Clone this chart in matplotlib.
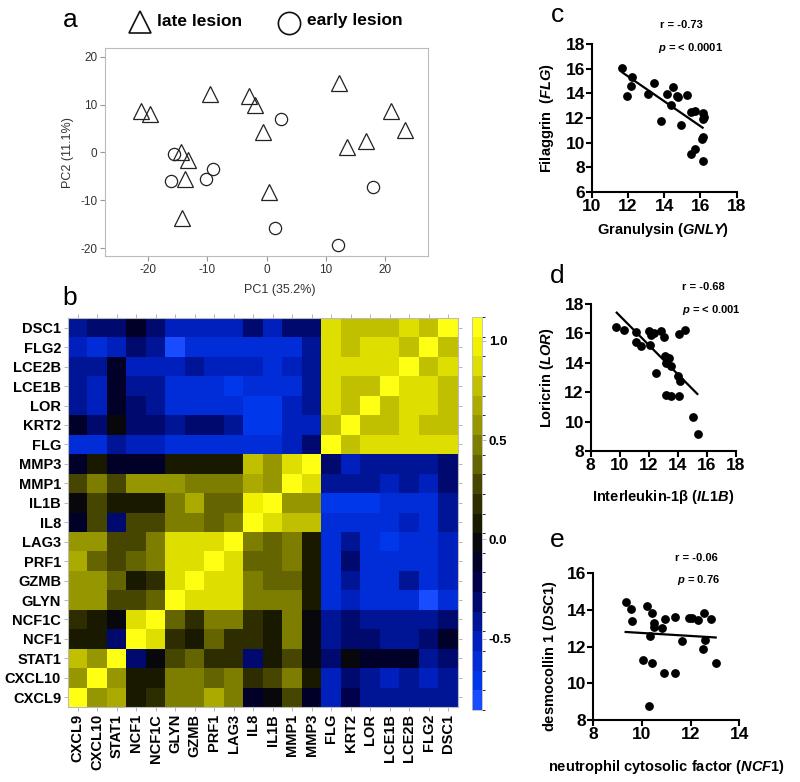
import numpy as np
import matplotlib
matplotlib.use('Agg')
import matplotlib.pyplot as plt
from matplotlib.colors import ListedColormap, BoundaryNorm
from matplotlib.lines import Line2D

plt.rcParams['font.family'] = ['Liberation Sans', 'DejaVu Sans']
plt.rcParams['axes.unicode_minus'] = False
plt.rcParams['mathtext.fontset'] = 'custom'
plt.rcParams['mathtext.rm'] = 'Liberation Sans:bold'
plt.rcParams['mathtext.it'] = 'Liberation Sans:italic:bold'
plt.rcParams['mathtext.bf'] = 'Liberation Sans:bold'

# ---------------- data ----------------
late_pc1 = [-21.2, -19.7, -9.6, -3.0, -2.0, -0.6, 12.3, 21.0, 23.4, 16.9, 13.6, -14.5, -13.2, -13.8, 0.5, -14.2]
late_pc2 = [8.7, 8.0, 12.1, 11.7, 9.9, 4.2, 14.6, 8.7, 4.6, 2.3, 1.2, 0.2, -1.6, -5.5, -8.2, -13.6]
early_pc1 = [-15.7, -16.2, -10.3, -9.1, 2.4, 1.4, 12.1, 18.0]
early_pc2 = [-0.3, -5.9, -5.5, -3.4, 7.0, -15.8, -19.3, -7.3]

genes = ['CXCL9', 'CXCL10', 'STAT1', 'NCF1', 'NCF1C', 'GLYN', 'GZMB', 'PRF1', 'LAG3', 'IL8',
         'IL1B', 'MMP1', 'MMP3', 'FLG', 'KRT2', 'LOR', 'LCE1B', 'LCE2B', 'FLG2', 'DSC1']
corr = [
    [1.05, 0.6, 0.7, 0.08, 0.2, 0.5, 0.5, 0.65, 0.5, -0.1, -0.05, 0.25, -0.08, -0.55, -0.2, -0.4, -0.4, -0.4, -0.45, -0.45],
    [0.6, 1.05, 0.6, 0.08, 0.08, 0.5, 0.5, 0.4, 0.5, 0.2, 0.3, 0.45, 0.05, -0.55, -0.3, -0.45, -0.55, -0.45, -0.55, -0.45],
    [0.75, 0.6, 1.05, -0.3, -0.05, 0.25, 0.35, 0.2, 0.2, -0.3, 0.1, 0.25, -0.05, -0.35, -0.05, -0.15, -0.15, -0.15, -0.4, -0.3],
    [0.08, 0.08, -0.3, 1.05, 0.9, 0.2, 0.08, 0.35, 0.2, 0.2, 0.08, 0.45, -0.05, -0.4, -0.3, -0.35, -0.4, -0.4, -0.3, -0.15],
    [0.2, 0.08, -0.05, 0.9, 1.05, 0.35, 0.2, 0.5, 0.5, 0.2, 0.1, 0.45, -0.05, -0.45, -0.35, -0.4, -0.4, -0.4, -0.4, -0.3],
    [0.55, 0.55, 0.25, 0.25, 0.4, 1.05, 0.9, 0.9, 0.9, 0.5, 0.5, 0.45, 0.05, -0.65, -0.5, -0.6, -0.6, -0.6, -0.8, -0.6],
    [0.55, 0.55, 0.35, 0.08, 0.2, 0.9, 1.05, 0.9, 0.9, 0.5, 0.35, 0.35, 0.05, -0.65, -0.4, -0.6, -0.6, -0.45, -0.6, -0.55],
    [0.7, 0.4, 0.25, 0.4, 0.5, 0.9, 0.9, 1.05, 0.9, 0.4, 0.35, 0.5, 0.05, -0.65, -0.35, -0.6, -0.6, -0.6, -0.6, -0.55],
    [0.55, 0.55, 0.25, 0.25, 0.5, 0.9, 0.9, 0.9, 1.05, 0.5, 0.4, 0.5, 0.05, -0.65, -0.45, -0.6, -0.7, -0.6, -0.6, -0.55],
    [-0.08, 0.25, -0.3, 0.25, 0.25, 0.5, 0.5, 0.35, 0.5, 1.05, 0.9, 0.75, 0.75, -0.65, -0.65, -0.65, -0.65, -0.5, -0.65, -0.45],
    [-0.05, 0.3, 0.1, 0.1, 0.1, 0.45, 0.7, 0.35, 0.35, 0.95, 1.05, 0.6, 0.6, -0.7, -0.7, -0.7, -0.6, -0.6, -0.65, -0.45],
    [0.3, 0.5, 0.3, 0.55, 0.55, 0.55, 0.5, 0.5, 0.5, 0.7, 0.6, 1.05, 0.85, -0.45, -0.45, -0.45, -0.55, -0.45, -0.55, -0.3],
    [-0.08, 0.05, -0.08, -0.08, -0.08, 0.08, 0.08, 0.05, 0.05, 0.75, 0.6, 0.85, 1.05, -0.3, -0.55, -0.45, -0.45, -0.45, -0.45, -0.3],
    [-0.6, -0.6, -0.45, -0.5, -0.55, -0.65, -0.65, -0.65, -0.65, -0.65, -0.65, -0.5, -0.3, 1.05, 0.75, 0.9, 0.9, 0.9, 0.9, 0.9],
    [-0.15, -0.3, -0.05, -0.3, -0.3, -0.45, -0.35, -0.35, -0.45, -0.7, -0.7, -0.5, -0.55, 0.75, 1.05, 0.75, 0.75, 0.9, 0.75, 0.75],
    [-0.45, -0.5, -0.15, -0.35, -0.45, -0.6, -0.6, -0.6, -0.6, -0.7, -0.75, -0.5, -0.45, 0.9, 0.75, 1.05, 0.75, 0.9, 0.9, 0.75],
    [-0.45, -0.55, -0.15, -0.45, -0.45, -0.6, -0.6, -0.6, -0.7, -0.6, -0.6, -0.6, -0.45, 0.9, 0.75, 0.75, 1.05, 0.9, 0.9, 0.75],
    [-0.45, -0.45, -0.15, -0.5, -0.5, -0.55, -0.45, -0.55, -0.55, -0.55, -0.6, -0.5, -0.45, 0.9, 0.9, 0.9, 0.9, 1.05, 0.75, 0.9],
    [-0.5, -0.65, -0.5, -0.3, -0.45, -0.8, -0.65, -0.65, -0.65, -0.65, -0.65, -0.6, -0.45, 0.9, 0.75, 0.9, 0.9, 0.75, 1.05, 0.75],
    [-0.45, -0.3, -0.3, -0.15, -0.3, -0.55, -0.55, -0.55, -0.55, -0.35, -0.55, -0.35, -0.35, 0.9, 0.75, 0.75, 0.75, 0.9, 0.75, 1.05],
]
cbar_ticks = [-0.5, 0.0, 0.5, 1.0]

# panel c
gnly = [11.66, 12.21, 12.17, 11.97, 13.09, 13.46, 13.81, 14.14, 14.47, 14.36, 14.71, 14.76,
        14.91, 15.28, 15.46, 15.68, 16.16, 16.22, 16.16, 16.16, 16.11, 15.72, 15.50, 16.16]
flg = [16.10, 15.37, 14.58, 13.77, 13.93, 14.82, 11.73, 13.93, 14.53, 13.09, 13.82, 13.68,
       11.40, 13.90, 12.52, 12.60, 12.38, 12.11, 11.89, 10.43, 10.29, 9.50, 9.10, 8.47]
fit_c_x = [11.71, 16.12]
fit_c_y = [15.69, 11.21]
# panel d
il1b = [9.72, 10.29, 11.10, 11.12, 11.44, 12.01, 12.17, 12.33, 12.06, 12.86, 13.05, 12.47,
        13.09, 13.18, 13.39, 13.55, 13.99, 14.15, 13.18, 13.55, 14.10, 14.08, 14.49, 15.02, 15.36]
lor = [16.41, 16.23, 16.12, 15.44, 15.17, 16.16, 15.89, 16.05, 15.21, 16.14, 15.73, 13.31,
       14.46, 13.96, 14.30, 13.76, 13.10, 12.76, 11.81, 11.76, 11.74, 15.96, 16.23, 10.34, 9.16]
fit_d_x = [9.79, 15.34]
fit_d_y = [17.41, 11.88]
# panel e
ncf1 = [9.33, 9.55, 9.60, 10.19, 10.41, 10.51, 10.49, 10.82, 10.95, 11.37, 10.33, 10.05, 10.41,
        10.89, 11.37, 10.27, 11.63, 11.92, 12.07, 12.30, 12.55, 12.60, 12.49, 12.84, 13.03]
dsc1 = [14.44, 14.07, 13.40, 14.22, 13.85, 13.31, 13.09, 13.02, 13.53, 13.64, 12.58, 11.29, 11.13,
        10.58, 10.58, 8.76, 12.31, 13.58, 13.58, 13.47, 13.85, 12.38, 11.85, 13.53, 11.13]
fit_e_x = [9.33, 13.03]
fit_e_y = [12.80, 12.50]

# ---------------- figure ----------------
W, H = 800, 782
fig = plt.figure(figsize=(W / 100, H / 100), dpi=100)


def fx(x):
    return x / W


def fy(y):
    return 1 - y / H


def rect(x0, y0, x1, y1):
    return [fx(x0), fy(y1), (x1 - x0) / W, (y1 - y0) / H]


# ---- panel a: PCA ----
axa = fig.add_axes(rect(105, 48, 428, 256))
axa.plot(late_pc1, late_pc2, linestyle='none', marker='^', ms=11.5, mfc='none',
         mec='#222222', mew=0.9)
axa.plot(early_pc1, early_pc2, linestyle='none', marker='o', ms=8.8, mfc='none',
         mec='#222222', mew=0.9)
axa.set_xlim(-27.3, 27.3)
axa.set_ylim(-21.6, 21.8)
axa.set_xticks([-20, -10, 0, 10, 20])
axa.set_yticks([-20, -10, 0, 10, 20])
for s in axa.spines.values():
    s.set_color('#bbbbbb')
    s.set_linewidth(0.8)
axa.tick_params(length=3.5, width=0.8, color='#999999', labelsize=8.5, labelcolor='#333333', pad=2)
fig.text(fx(280), fy(290), 'PC1 (35.2%)', ha='center', va='center', fontsize=9, color='#333333')
fig.text(fx(68), fy(153), 'PC2 (11.1%)', ha='center', va='center', fontsize=9, color='#333333',
         rotation=90)
# legend
fig.add_artist(Line2D([fx(140)], [fy(22)], marker='^', ms=16.5, mfc='none', mec='#111111',
                      mew=1.2, linestyle='none', transform=fig.transFigure))
fig.text(fx(157), fy(21), 'late lesion', ha='left', va='center', fontsize=12.5, fontweight='bold')
fig.add_artist(Line2D([fx(289)], [fy(23)], marker='o', ms=16, mfc='none', mec='#111111',
                      mew=1.2, linestyle='none', transform=fig.transFigure))
fig.text(fx(307), fy(21), 'early lesion', ha='left', va='center', fontsize=12.5, fontweight='bold')

# ---- panel b: heatmap ----
bin_colors = [
    (25, 75, 255), (0, 55, 235), (0, 45, 215), (0, 32, 190), (0, 20, 150), (0, 10, 110),
    (0, 0, 75), (0, 0, 40), (8, 8, 12), (25, 25, 0), (45, 45, 0), (70, 70, 0), (100, 100, 0),
    (125, 125, 0), (150, 150, 0), (170, 170, 0), (192, 192, 0), (222, 222, 0), (240, 240, 0),
    (255, 255, 20)]
cmap = ListedColormap([(r / 255, g / 255, b / 255) for r, g, b in bin_colors])
bounds = np.linspace(-0.86, 1.12, 21)
norm = BoundaryNorm(bounds, cmap.N)

axb = fig.add_axes(rect(68, 318, 458, 707))
im = axb.imshow(np.array(corr), origin='lower', cmap=cmap, norm=norm, aspect='auto',
                interpolation='nearest')
axb.set_xticks(range(len(genes)))
axb.set_yticks(range(len(genes)))
axb.set_xticklabels(genes, rotation=90, fontsize=10.5, fontweight='bold')
axb.set_yticklabels(genes, fontsize=10.5, fontweight='bold')
axb.tick_params(top=True, right=True, length=3, width=0.6, color='#aaaaaa', pad=2)
for s in axb.spines.values():
    s.set_color('#bbbbbb')
    s.set_linewidth(0.8)

cax = fig.add_axes(rect(472, 317, 482, 710))
cb = fig.colorbar(im, cax=cax, ticks=cbar_ticks)
cb.ax.set_yticklabels(['%.1f' % t for t in cbar_ticks], fontsize=9.5, fontweight='bold')
cb.ax.tick_params(length=3, width=0.6, color='#aaaaaa', pad=2)
cb.outline.set_edgecolor('#bbbbbb')
cb.outline.set_linewidth(0.6)

# panel labels
for lab, (x, y) in zip('abcde', [(70, 20), (70, 298), (558, 15), (557, 276), (557, 540)]):
    fig.text(fx(x), fy(y), lab, ha='center', va='center', fontsize=19)


# ---- scatter panels ----
def scatter_panel(box, x, y, fitx, fity, xlim, ylim, xt, yt, rtxt, ptxt, rpos, ppos):
    ax = fig.add_axes(rect(*box))
    ax.plot(x, y, linestyle='none', marker='o', ms=5.3, color='black', clip_on=False)
    ax.plot(fitx, fity, color='black', lw=1.6)
    ax.set_xlim(*xlim)
    ax.set_ylim(*ylim)
    ax.set_xticks(xt)
    ax.set_yticks(yt)
    for k in ['top', 'right']:
        ax.spines[k].set_visible(False)
    for k in ['left', 'bottom']:
        ax.spines[k].set_linewidth(1.5)
    ax.tick_params(length=4, width=1.5, labelsize=12.5, pad=1)
    for t in ax.get_xticklabels() + ax.get_yticklabels():
        t.set_fontweight('bold')
    ax.text(rpos[0], rpos[1], rtxt, transform=ax.transAxes, ha='center', va='center',
            fontsize=8, fontweight='bold')
    ax.text(ppos[0], ppos[1], ptxt, transform=ax.transAxes, ha='center', va='center',
            fontsize=8, fontweight='bold')
    return ax


scatter_panel((591.7, 44.3, 736.7, 191.7), gnly, flg, fit_c_x, fit_c_y, (10, 18), (6, 18),
              [10, 12, 14, 16, 18], [6, 8, 10, 12, 14, 16, 18],
              'r = -0.73', r'$\mathit{p}$ = < $\mathit{0.0001}$', (0.62, 1.131), (0.683, 0.977))
fig.text(fx(663), fy(230), r'Granulysin ($\mathit{GNLY}$)', ha='center', va='center',
         fontsize=10.5, fontweight='bold')
fig.text(fx(546.7), fy(118), r'Filaggrin  ($\mathit{FLG}$)', ha='center', va='center',
         fontsize=10.5, fontweight='bold', rotation=90)

scatter_panel((590.7, 304, 736, 451), il1b, lor, fit_d_x, fit_d_y, (8, 18), (8, 18),
              [8, 10, 12, 14, 16, 18], [8, 10, 12, 14, 16, 18],
              'r = -0.68', r'$\mathit{p}$ = < $\mathit{0.001}$', (0.773, 1.116), (0.833, 0.959))
fig.text(fx(663), fy(496.7), 'Interleukin-1\u03b2 ($\\mathit{IL1B}$)', ha='center', va='center',
         fontsize=10.5, fontweight='bold')
fig.text(fx(546.7), fy(378), r'Loricrin ($\mathit{LOR}$)', ha='center', va='center',
         fontsize=10.5, fontweight='bold', rotation=90)

scatter_panel((593.3, 573.3, 739.3, 720), ncf1, dsc1, fit_e_x, fit_e_y, (8, 14), (8, 16),
              [8, 10, 12, 14], [8, 10, 12, 14, 16],
              'r = -0.06', r'$\mathit{p}$ = $\mathit{0.76}$', (0.708, 1.106), (0.717, 0.954))
fig.text(fx(666.7), fy(766.7), r'neutrophil cytosolic factor ($\mathit{NCF1}$)', ha='center',
         va='center', fontsize=10.5, fontweight='bold')
fig.text(fx(550), fy(656.7), r'desmocollin 1 ($\mathit{DSC1}$)', ha='center', va='center',
         fontsize=10.5, fontweight='bold', rotation=90)

fig.savefig('out.png', dpi=100)
